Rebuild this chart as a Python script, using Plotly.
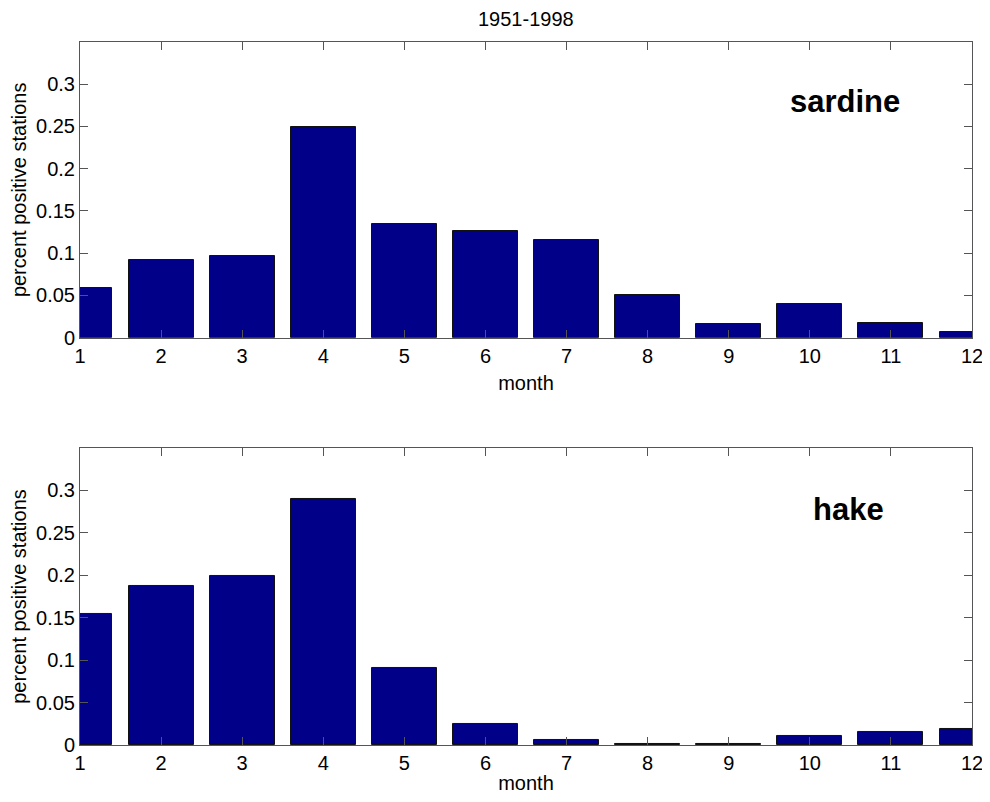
import plotly.graph_objects as go
from plotly.subplots import make_subplots

months = list(range(1, 13))
sardine = [0.0585, 0.0916, 0.0970, 0.2494, 0.1346, 0.1266, 0.1153, 0.0502, 0.0162, 0.0402, 0.0174, 0.0071]
hake = [0.1543, 0.1873, 0.1994, 0.2898, 0.0907, 0.0251, 0.0055, 0.0015, 0.0012, 0.0106, 0.0150, 0.0192]
ytick_vals = [0, 0.05, 0.1, 0.15, 0.2, 0.25, 0.3]
ytick_text = ["0", "0.05", "0.1", "0.15", "0.2", "0.25", "0.3"]
title_text = "1951-1998"
labels = ["sardine", "hake"]

FONT = "Liberation Sans, Arial, sans-serif"
BAR = "#000088"
AX = "#555555"

fig = make_subplots(rows=2, cols=1, vertical_spacing=0.157)
for i, vals in enumerate([sardine, hake], start=1):
    fig.add_trace(go.Bar(x=months, y=vals, width=0.8,
                         marker=dict(color=BAR, line=dict(color="#111111", width=1)),
                         showlegend=False), row=i, col=1)
    fig.update_xaxes(range=[1, 12], tickvals=months, ticks="inside", ticklen=8,
                     tickcolor=AX, showline=True, linecolor=AX, linewidth=1,
                     mirror="ticks", showgrid=False, zeroline=False, automargin=False,
                     ticklabeloverflow="allow",
                     tickfont=dict(family=FONT, size=20, color="#000"),
                     title=dict(text="month", font=dict(family=FONT, size=20, color="#000"), standoff=10),
                     row=i, col=1)
    fig.update_yaxes(range=[0, 0.35], tickvals=ytick_vals, ticktext=ytick_text,
                     ticks="inside", ticklen=8, tickcolor=AX, showline=True,
                     linecolor=AX, linewidth=1, mirror="ticks", showgrid=False,
                     zeroline=False, automargin=False,
                     tickfont=dict(family=FONT, size=20, color="#000"),
                     title=dict(text="percent positive stations", font=dict(family=FONT, size=20, color="#000"), standoff=6),
                     row=i, col=1)

# page body adds an 8px offset; size figure so plot area lands at reference position
fig.update_layout(
    width=974, height=786,
    margin=dict(l=72, r=10, t=34, b=49),
    plot_bgcolor="white", paper_bgcolor="white",
    bargap=0,
)
fig.update_layout(yaxis=dict(domain=[0.5794, 1.0]), yaxis2=dict(domain=[0.0, 0.4225]))

fig.add_annotation(text=title_text, xref="paper", yref="paper", x=0.5, y=1.0, yanchor="middle",
                   yshift=23, showarrow=False, font=dict(family=FONT, size=20, color="#000"))
fig.add_annotation(text="<b>" + labels[0] + "</b>", xref="x", yref="y", x=10.43, y=0.2793,
                   showarrow=False, font=dict(family=FONT, size=31, color="#000"))
fig.add_annotation(text="<b>" + labels[1] + "</b>", xref="x2", yref="y2", x=10.48, y=0.278,
                   showarrow=False, font=dict(family=FONT, size=31, color="#000"))

fig.write_html("out.html")
